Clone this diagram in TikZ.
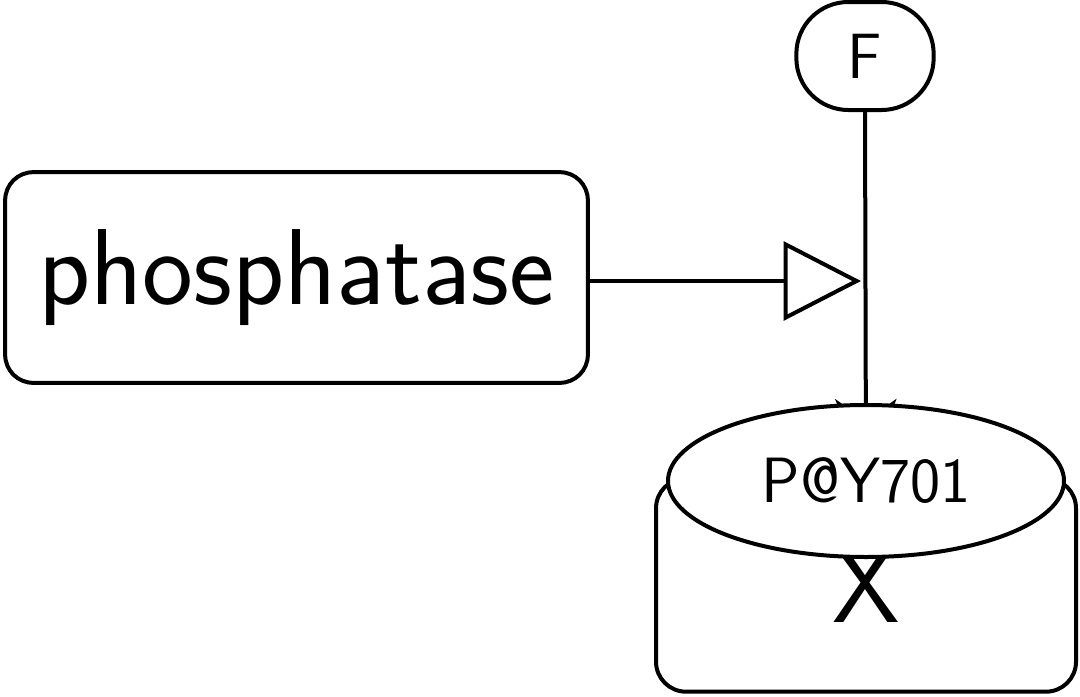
\documentclass[tikz,border=0pt]{standalone}
\usetikzlibrary{arrows.meta,shapes.geometric}
\begin{document}
\begin{tikzpicture}[x=0.75pt,y=-0.75pt,line width=3pt,
  big/.style={font=\sffamily\fontsize{81}{85}\selectfont},
  small/.style={font=\sffamily\fontsize{48}{52}\selectfont},
  ent/.style={draw,fill=white,inner sep=0pt,rectangle},
  stim/.style={-{Triangle[open,length=58pt,width=59pt]}},
  conv/.style={-{Stealth[length=58pt,width=46pt,inset=16pt]}}]
\useasboundingbox (0,0) rectangle (1080,696);
% entities
\node[ent,big,rounded corners=21pt,minimum width=437pt,minimum height=158pt] (ph) at (296.5,277.5) {phosphatase};
\node[ent,big,rounded corners=22.5pt,minimum width=315pt,minimum height=160pt,text depth=0pt] (x) at (866,585) {X};
\node[ent,small,rounded corners=39pt,minimum width=103pt,minimum height=81pt] (f) at (865,56) {F};
\coordinate (s) at (861,281);
% connectors
\draw[conv] (f.south) -- (x.north);
\draw[stim] (ph.east |- s) -- (s);
% state variable
\node[draw,fill=white,ellipse,inner sep=0pt,small,minimum width=297pt,minimum height=114pt] (sv) at (866,481) {P@Y701};
\end{tikzpicture}
\end{document}
